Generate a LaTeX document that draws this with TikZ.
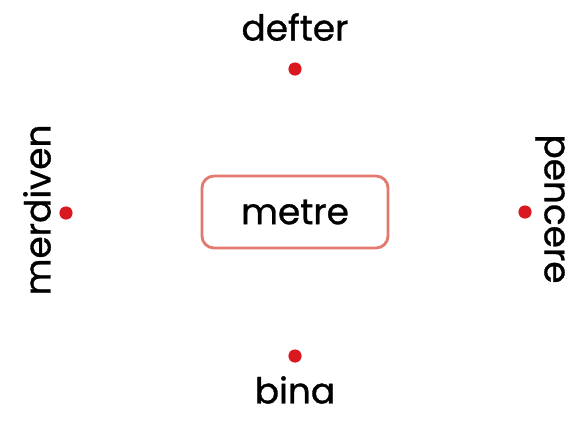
\documentclass[tikz,border=0pt]{standalone}
\usepackage{fontspec}
\setmainfont{Poppins}
\newfontfamily\wordfont[FakeBold=0.9]{Poppins}
\usetikzlibrary{positioning}
\definecolor{dotred}{rgb}{0.85,0.1,0.12}
\definecolor{boxred}{rgb}{0.89,0.47,0.43}

\begin{document}
\begin{tikzpicture}[
    x=0.025cm, y=-0.025cm,
    dot/.style={circle, fill=dotred, inner sep=0pt, minimum size=0.33cm},
    word/.style={font=\wordfont\fontsize{25.5}{25.5}\selectfont, inner sep=0pt},
    wordbox/.style={rectangle, draw=boxred, line width=2pt, rounded corners=0.3cm, fill=white, minimum width=4.65cm, minimum height=1.8cm, font=\wordfont\fontsize{25.5}{25.5}\selectfont}
]
    \useasboundingbox (0,0) rectangle (588,423);
    % kelime kutusu
    \node[wordbox] (center) at (295,212) {metre};
    % noktalar
    \node[dot] (top) at (295,69) {};
    \node[dot] (bottom) at (295,356) {};
    \node[dot] (left) at (66,213) {};
    \node[dot] (right) at (525,212) {};
    % kelimeler
    \node[word] (defter) at (295,27) {defter};
    \node[word] (bina) at (295,390) {bina};
    \node[word, rotate=90] (merdiven) at (37,210) {merdiven};
    \node[word, rotate=-90] (pencere) at (550,209) {pencere};
\end{tikzpicture}
\end{document}
